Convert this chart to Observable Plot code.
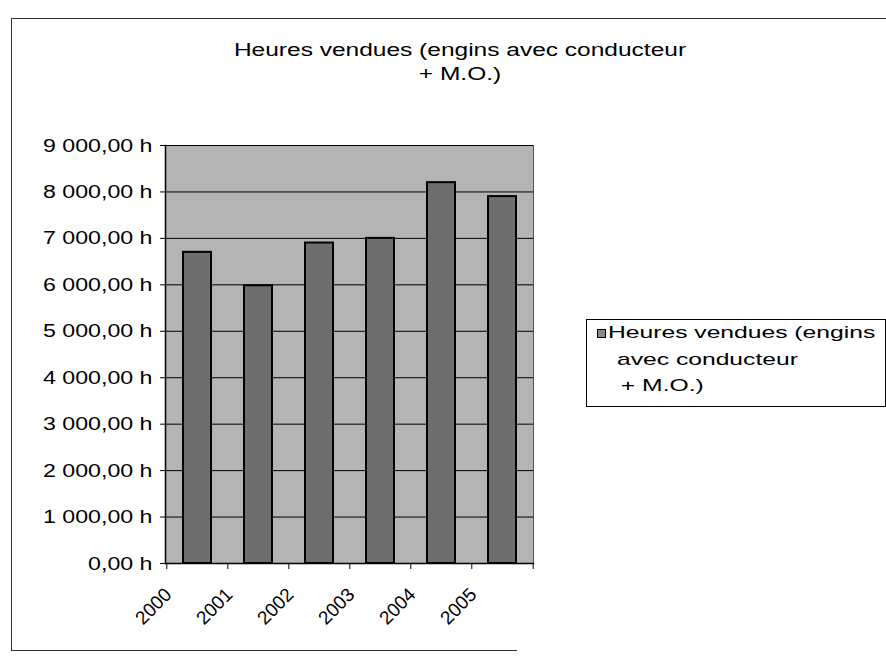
<!DOCTYPE html>
<html>
<head>
<meta charset="utf-8">
<script src="https://cdn.jsdelivr.net/npm/d3@7"></script>
<script src="https://cdn.jsdelivr.net/npm/@observablehq/plot@0.6"></script>
<style>
  html, body { margin: 0; padding: 0; background: #fff; }
  body { width: 886px; height: 661px; position: relative; overflow: hidden; font-family: "Liberation Sans", Arial, sans-serif; color: #000; }
  .frame { position: absolute; left: 11px; top: 18px; width: 900px; height: 632px; border-left: 1.5px solid #333; border-top: 1.5px solid #333; }
  .frame-bottom { position: absolute; left: 11px; top: 650px; width: 506px; border-top: 1.5px solid #333; }
  .title-line { position: absolute; left: 160px; width: 600px; text-align: center; font-size: 17.5px; line-height: 24px; transform: scaleX(1.4); transform-origin: 50% 50%; white-space: pre; }
  .legend { position: absolute; left: 586px; top: 319px; width: 298px; height: 86px; border: 1px solid #000; background: #fff; }
  .legend-swatch { position: absolute; left: 597px; top: 329px; width: 7px; height: 7px; background: #8a8a8a; border: 1px solid #000; }
  .legend-line { position: absolute; font-size: 17px; line-height: 26px; transform: scaleX(1.45); transform-origin: 0 50%; white-space: pre; }
  #chart { position: absolute; left: 0; top: 130px; }
</style>
</head>
<body>
<div class="frame"></div>
<div class="frame-bottom"></div>
<div id="title"></div>
<div class="legend"></div>
<div class="legend-swatch"></div>
<div id="legend-text"></div>
<div id="chart"></div>
<script>
// ---- data ----
const years = ["2000", "2001", "2002", "2003", "2004", "2005"];
const hours = [6700, 5980, 6900, 7000, 8200, 7900];
const yTicks = [0, 1000, 2000, 3000, 4000, 5000, 6000, 7000, 8000, 9000];
const titleLines = ["Heures vendues (engins avec conducteur", "+ M.O.)"];
const legendLines = ["Heures vendues (engins", "avec conducteur", " + M.O.)"];

const data = years.map((year, i) => ({year, hours: hours[i]}));

// French number format: "9 000,00 h"
const fr = d3.formatLocale({decimal: ",", thousands: "\u00a0", grouping: [3], currency: ["", ""]});
const fmt = d => fr.format(",.2f")(d).replace(/\u00a0/g, " ") + " h";

// title
const titleEl = document.getElementById("title");
titleLines.forEach((t, i) => {
  const d = document.createElement("div");
  d.className = "title-line";
  d.style.top = (38 + i * 24) + "px";
  d.textContent = t;
  titleEl.appendChild(d);
});

// legend text
const legEl = document.getElementById("legend-text");
const legLeft = [608, 617, 614];
legendLines.forEach((t, i) => {
  const d = document.createElement("div");
  d.className = "legend-line";
  d.style.left = legLeft[i] + "px";
  d.style.top = (320 + i * 26.5) + "px";
  d.textContent = t;
  legEl.appendChild(d);
});

// chart
const W = 560, H = 520, mL = 165, mR = 27, mT = 15, mB = 87;
const pI = 0.545, pO = 0.27;
const step = (W - mL - mR) / (years.length - pI + 2 * pO);

const chart = Plot.plot({
  width: W,
  height: H,
  marginLeft: mL,
  marginRight: mR,
  marginTop: mT,
  marginBottom: mB,
  style: {background: "transparent", fontFamily: "'Liberation Sans', Arial, sans-serif", fontSize: "19px", color: "#000"},
  x: {domain: years, paddingInner: pI, paddingOuter: pO, label: null},
  y: {domain: [0, 9000], label: null},
  marks: [
    Plot.frame({fill: "#b4b4b4", stroke: "#555"}),
    Plot.gridY(yTicks, {stroke: "#000", strokeOpacity: 1, strokeWidth: 1}),
    Plot.barY(data, {x: "year", y: "hours", fill: "#6e6e6e", stroke: "#000", strokeWidth: 2}),
    Plot.frame({anchor: "left", stroke: "#000", strokeWidth: 1.5}),
    Plot.frame({anchor: "bottom", stroke: "#000", strokeWidth: 1.5}),
    Plot.axisY(yTicks, {tickFormat: fmt, tickSize: 5, tickPadding: 8, fontSize: 19, label: null}),
    Plot.axisX({tickSize: 6, text: null, dx: -step / 2, label: null}),
    Plot.axisX([years[years.length - 1]], {tickSize: 6, text: null, dx: step / 2, label: null}),
    Plot.axisX({tickSize: 0, tickPadding: 28, tickRotate: -45, dx: -29, fontSize: 19, label: null})
  ]
});
document.getElementById("chart").appendChild(chart);

// widen y tick labels to match the reference's wide lettering
chart.querySelectorAll('g[aria-label="y-axis tick label"] text').forEach(t => {
  const tr = t.getAttribute("transform") || "";
  t.setAttribute("transform", tr + " scale(1.22,1)");
});
</script>
</body>
</html>
